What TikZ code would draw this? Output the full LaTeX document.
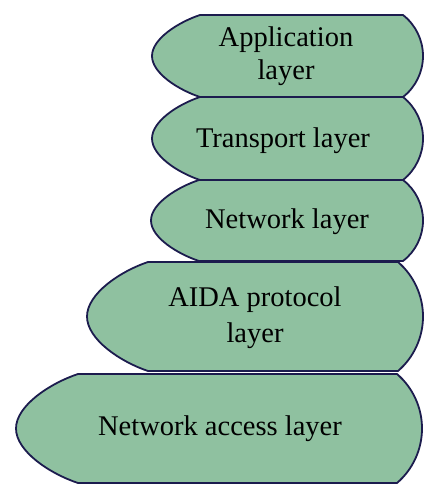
\documentclass[tikz,border=0pt]{standalone}
\usepackage{fontspec}
\setmainfont{Liberation Serif}
\definecolor{layerfill}{RGB}{143,193,160}
\definecolor{layerline}{RGB}{28,28,78}
\tikzset{
  layer/.style={fill=layerfill, draw=layerline, line width=1.8pt, line join=round},
  lbl/.style={anchor=base, inner sep=0pt, align=center, text=black}
}
% #1 top-left x, #2 top-right x, #3 top y, #4 bottom y, #5 tip x, #6 right x
\newcommand\layershape[6]{%
  \pgfmathsetmacro\ymid{(#3+#4)/2}%
  \pgfmathsetmacro\hh{(#4-#3)/2}%
  \pgfmathsetmacro\ldx{#1-#5}%
  \pgfmathsetmacro\rdx{#6-#2}%
  \pgfmathsetmacro\rr{(\rdx*\rdx+\hh*\hh)/(2*\rdx)}%
  \pgfmathsetmacro\th{asin(\hh/\rr)}%
  \pgfmathsetmacro\kk{4/3*tan(\th/4)*\rr}%
  \pgfmathsetmacro\cx{\kk*\hh/\rr}%
  \pgfmathsetmacro\cy{\kk*(\rr-\rdx)/\rr}%
  \draw[layer] (#1,#3) -- (#2,#3)
    .. controls ({#2+\cx},{#3+\cy}) and (#6,{\ymid-\kk}) .. (#6,\ymid)
    .. controls (#6,{\ymid+\kk}) and ({#2+\cx},{#4-\cy}) .. (#2,#4)
    -- (#1,#4)
    .. controls ({#1-0.45*\ldx},{#4-0.15*\ldx}) and (#5,{\ymid+0.42*\hh}) .. (#5,\ymid)
    .. controls (#5,{\ymid-0.42*\hh}) and ({#1-0.45*\ldx},{#3+0.15*\ldx}) .. cycle;
}
\begin{document}
\begin{tikzpicture}[x=1pt,y=-1pt]
\useasboundingbox (0,0) rectangle (439,500);
\layershape{200}{403}{15}{97}{152}{423}
\layershape{200}{403}{97}{180}{152}{423}
\layershape{199}{403}{180}{261}{151}{423}
\layershape{148}{398}{262}{371}{87}{423}
\layershape{78}{397}{374}{483}{16}{422}
\node[lbl, font=\fontsize{28.5}{33}\selectfont] (app) at (286,80) {Application\\layer};
\node[lbl, font=\fontsize{28.5}{33}\selectfont] (trans) at (283,147) {Transport layer};
\node[lbl, font=\fontsize{28.5}{33}\selectfont] (net) at (287,228) {Network layer};
\node[lbl, font=\fontsize{28.5}{36}\selectfont] (aida) at (255,342) {AIDA protocol\\layer};
\node[lbl, font=\fontsize{28.5}{33}\selectfont] (acc) at (220,435) {Network access layer};
\end{tikzpicture}
\end{document}
